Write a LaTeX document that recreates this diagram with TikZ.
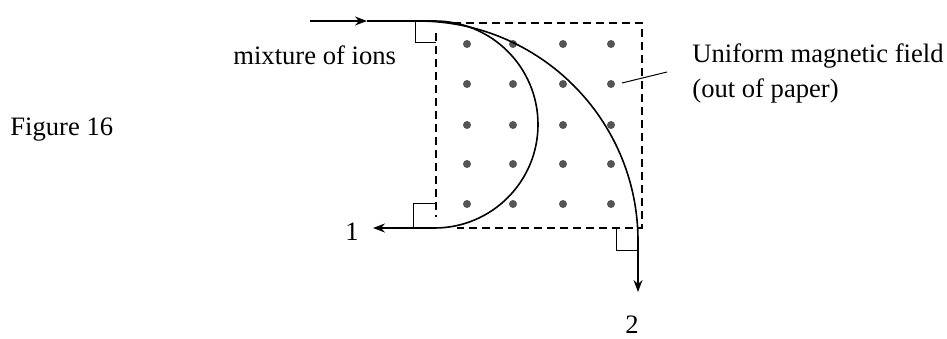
\documentclass[tikz,border=0pt]{standalone}
\usepackage{fontspec}
\setmainfont{Liberation Serif}
\usetikzlibrary{arrows.meta}
\definecolor{dotgray}{HTML}{555555}

\begin{document}
\begin{tikzpicture}[x=0.5pt,y=0.5pt,
  ion/.style={line width=0.8pt},
  ionarrow/.style={ion,-{Stealth[length=6pt,width=4.5pt,inset=2pt]}},
  field/.style={line width=0.6pt,dash pattern=on 4pt off 2.5pt},
  rightang/.style={line width=0.5pt},
  fielddot/.style={fill=dotgray},
  lbl/.style={font=\fontsize{13.3}{16}\selectfont,inner sep=0pt,anchor=base west}]
  \useasboundingbox (0,0) rectangle (947,338);

  % Labels
  \node[lbl] (fig) at (10,203) {Figure 16};
  \node[lbl] (mix) at (233,273) {mixture of ions};
  \node[lbl] (unif) at (692,275) {Uniform magnetic field};
  \node[lbl] (outp) at (692,241) {(out of paper)};
  \node[lbl,anchor=base] (one) at (352,98) {1};
  \node[lbl,anchor=base] (two) at (632,5) {2};

  % Field region
  \draw[field] (453,315) -| (642,110) -- (457,110);
  \draw[field] (436,305) -- (436,121);
  \foreach \x in {467,513,563,611}
    \foreach \y in {294,254,213,174,134}
      \fill[fielddot] (\x,\y) circle (4);
  \coordinate (fdot) at (622,255);
  \coordinate (fend) at (667,266);
  \draw[line width=0.5pt] (fdot) -- (fend);

  % Incoming beam
  \coordinate (src) at (310,317);
  \coordinate (midtip) at (367,317);
  \coordinate (entry1) at (434.5,317);
  \coordinate (entry2) at (418,317);
  \draw[ionarrow] (src) -- (midtip);
  \draw[ion] (midtip) -- (entry1);

  % Path 1 (small radius)
  \coordinate (tip1) at (373,110);
  \draw[ionarrow] (entry1) arc[start angle=90,end angle=-90,radius=103.5] -- (tip1);

  % Path 2 (large radius)
  \coordinate (tip2) at (638,46);
  \draw[ionarrow] (entry2) arc[start angle=90,end angle=0,radius=220] -- (tip2);

  % Right angle marks
  \draw[rightang] (415,317) -- (415,295) -- (436,295);
  \draw[rightang] (413,110) -- (413,135) -- (436,135);
  \draw[rightang] (616,110) -- (616,88) -- (638,88);
\end{tikzpicture}
\end{document}
